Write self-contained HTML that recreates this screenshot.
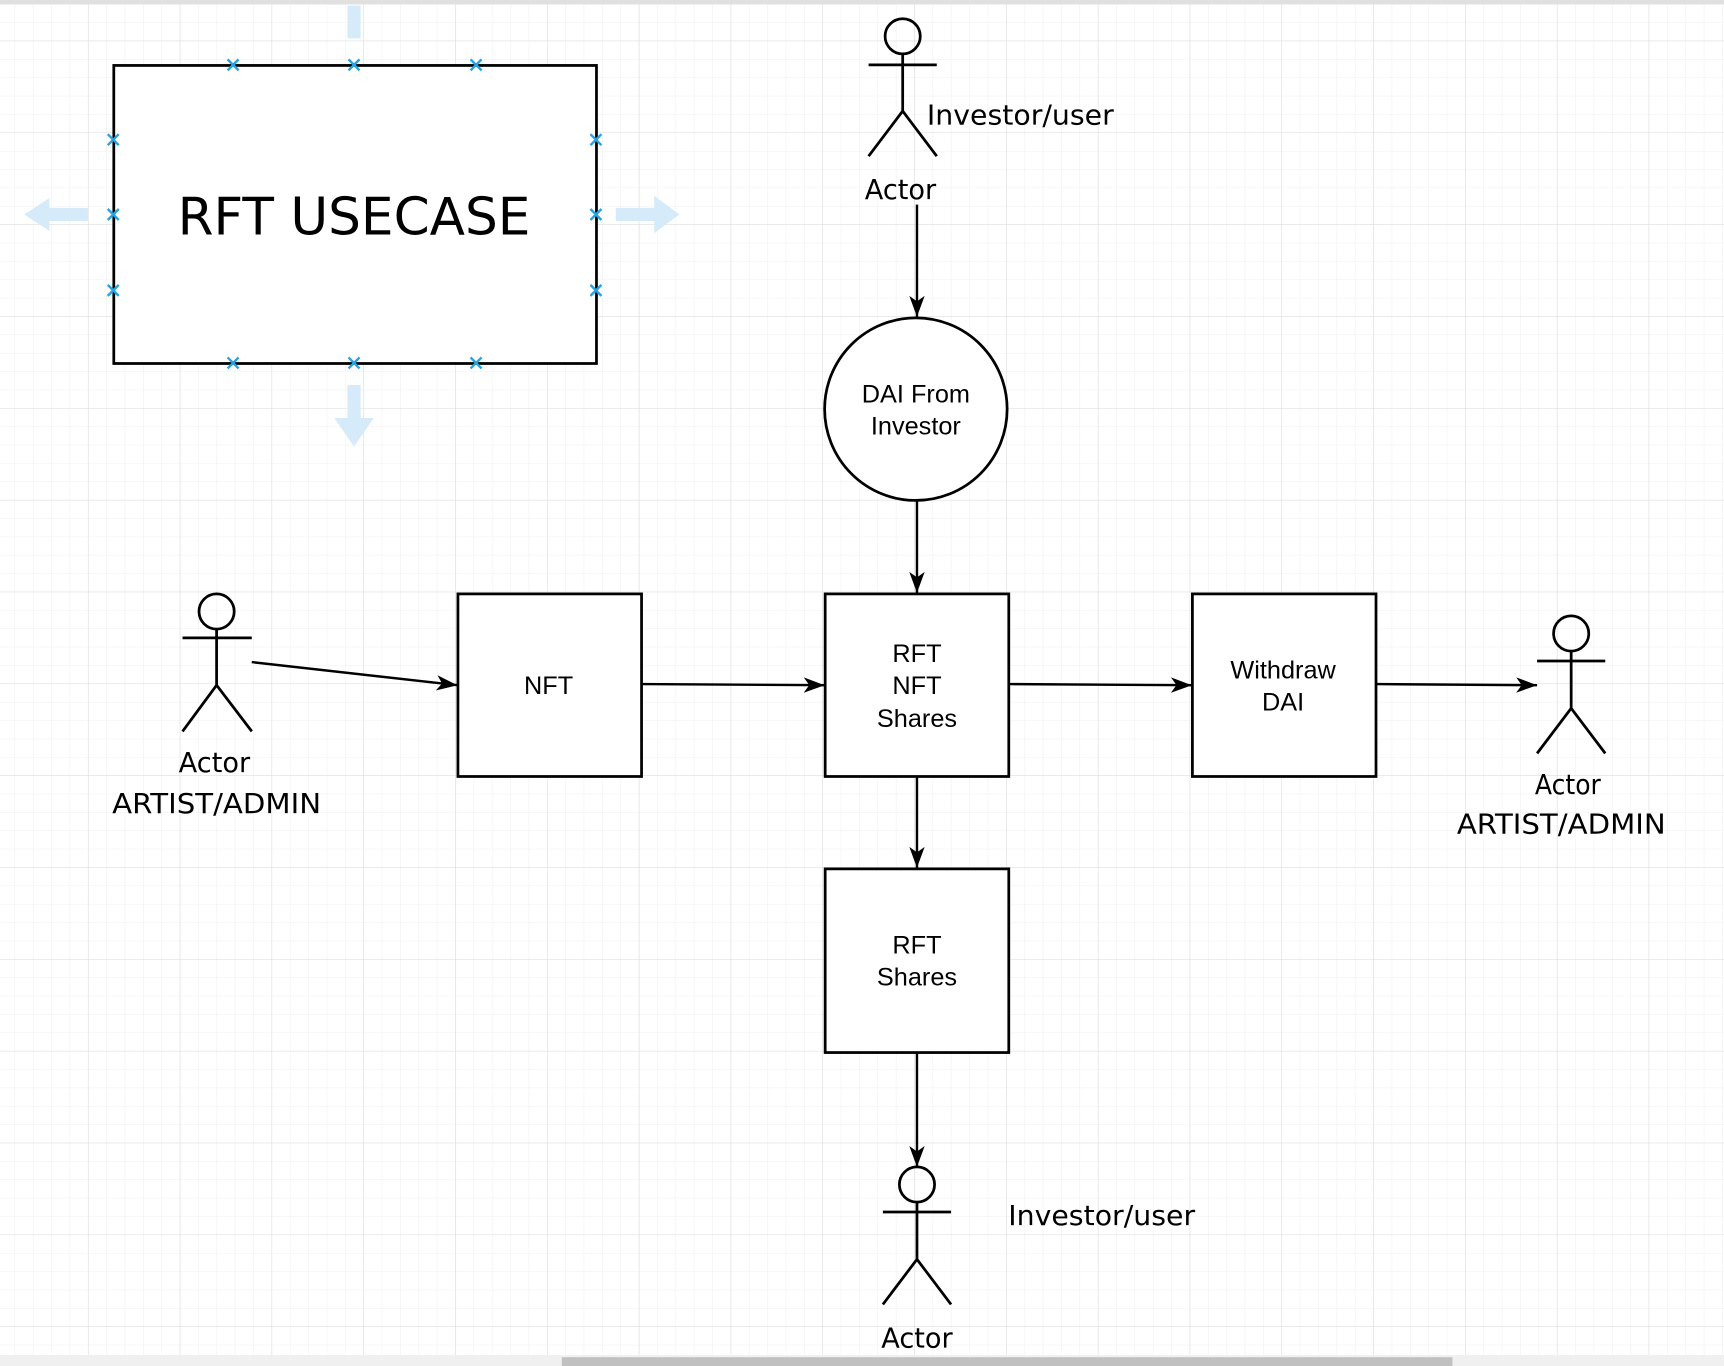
<!DOCTYPE html>
<html><head><meta charset="utf-8"><style>html,body{margin:0;padding:0;background:#fff}svg{display:block}</style></head>
<body>
<svg width="1724" height="1366" viewBox="0 0 1568 1242" preserveAspectRatio="none" xmlns="http://www.w3.org/2000/svg">
<defs>
<pattern id="minor" width="16.7" height="16.7" patternUnits="userSpaceOnUse" x="-3.5" y="3.6">
<path d="M0 0H16.7M0 0V16.7" stroke="#efefef" stroke-width="1" fill="none"/></pattern>
<pattern id="major" width="83.5" height="83.5" patternUnits="userSpaceOnUse" x="-3.5" y="37">
<path d="M0 0H83.5M0 0V83.5" stroke="#dcdcdc" stroke-width="1" fill="none"/></pattern>
<marker id="ah" markerWidth="20" markerHeight="16" refX="19" refY="8" orient="auto" markerUnits="userSpaceOnUse">
<path d="M0 1L19 8L0 15L5 8Z" fill="#000"/></marker>
</defs>
<rect width="1568" height="1242" fill="#fff"/>
<rect width="1568" height="1232" fill="url(#minor)"/>
<rect width="1568" height="1232" fill="url(#major)"/>
<rect x="0" y="0" width="1568" height="4" fill="#e0e0e0"/>
<rect x="0" y="1232" width="1568" height="10" fill="#f0f0f0"/>
<rect x="511" y="1234" width="810" height="8" fill="#c0c0c0"/>

<g fill="#d5ebf9">
<rect x="316" y="5" width="12" height="30"/>
<path d="M80 189H45V180L22 195L45 210V201H80Z"/>
<path d="M560 189H595V178L618 195L595 212V201H560Z"/>
<path d="M316 350H328V380H340L322 406L304 380H316Z"/>
</g>

<rect x="103.5" y="59.5" width="439" height="271" fill="#fff" stroke="#000" stroke-width="2.5"/>
<text x="322" y="213" font-family="DejaVu Sans, Liberation Sans, sans-serif" font-size="47" text-anchor="middle">RFT USECASE</text>
<g stroke="#29a3e0" stroke-width="2.2">
<path d="M207 54l10 10M217 54l-10 10 M317 54l10 10M327 54l-10 10 M428 54l10 10M438 54l-10 10
M207 325l10 10M217 325l-10 10 M317 325l10 10M327 325l-10 10 M428 325l10 10M438 325l-10 10
M98 122l10 10M108 122l-10 10 M98 190l10 10M108 190l-10 10 M98 259l10 10M108 259l-10 10
M537 122l10 10M547 122l-10 10 M537 190l10 10M547 190l-10 10 M537 259l10 10M547 259l-10 10"/>
</g>

<g fill="#fff" stroke="#000" stroke-width="2.5">
<circle cx="833" cy="372" r="83"/>
<rect x="416.5" y="540" width="167" height="166"/>
<rect x="750.5" y="540" width="167" height="166"/>
<rect x="1084.5" y="540" width="167" height="166"/>
<rect x="750.5" y="790" width="167" height="167"/>
</g>

<g font-family="Liberation Sans, Arial, sans-serif" font-size="23" text-anchor="middle" fill="#000">
<text x="833" y="366">DAI From</text><text x="833" y="395">Investor</text>
<text x="499" y="631">NFT</text>
<text x="834" y="602">RFT</text><text x="834" y="631">NFT</text><text x="834" y="661">Shares</text>
<text x="1167" y="617">Withdraw</text><text x="1167" y="646">DAI</text>
<text x="834" y="867">RFT</text><text x="834" y="896">Shares</text>
</g>

<g fill="none" stroke="#000" stroke-width="2.5">
<circle cx="821" cy="33" r="16"/><path d="M790 59H852M821 49V101M790 142L821 101L852 142"/>
<circle cx="197" cy="556" r="16"/><path d="M166 580H229M197 572V623M166 665L197 623L229 665"/>
<circle cx="1429" cy="576" r="16"/><path d="M1398 601H1460M1429 592V644M1398 685L1429 644L1460 685"/>
<circle cx="834" cy="1077" r="16"/><path d="M803 1102H865M834 1093V1145M803 1186L834 1145L865 1186"/>
</g>
<g font-family="DejaVu Sans, Liberation Sans, sans-serif" font-size="25" fill="#000">
<text x="819" y="181" text-anchor="middle" textLength="65" lengthAdjust="spacingAndGlyphs">Actor</text>
<text x="843" y="113" textLength="170" lengthAdjust="spacingAndGlyphs">Investor/user</text>
<text x="195" y="702" text-anchor="middle" textLength="65" lengthAdjust="spacingAndGlyphs">Actor</text>
<text x="197" y="739" text-anchor="middle" textLength="190" lengthAdjust="spacingAndGlyphs">ARTIST/ADMIN</text>
<text x="1426" y="722" text-anchor="middle" textLength="60" lengthAdjust="spacingAndGlyphs">Actor</text>
<text x="1420" y="758" text-anchor="middle" textLength="190" lengthAdjust="spacingAndGlyphs">ARTIST/ADMIN</text>
<text x="834" y="1225" text-anchor="middle" textLength="65" lengthAdjust="spacingAndGlyphs">Actor</text>
<text x="917" y="1114" textLength="170" lengthAdjust="spacingAndGlyphs">Investor/user</text>
</g>

<g stroke="#000" stroke-width="2.2" fill="none" marker-end="url(#ah)">
<path d="M834 186V288"/>
<path d="M834 456V539"/>
<path d="M229 602L416 623"/>
<path d="M584 622L750 623"/>
<path d="M918 622L1084 623"/>
<path d="M1252 622L1398 623"/>
<path d="M834 706V789"/>
<path d="M834 957V1061"/>
</g>
</svg>
</body></html>
